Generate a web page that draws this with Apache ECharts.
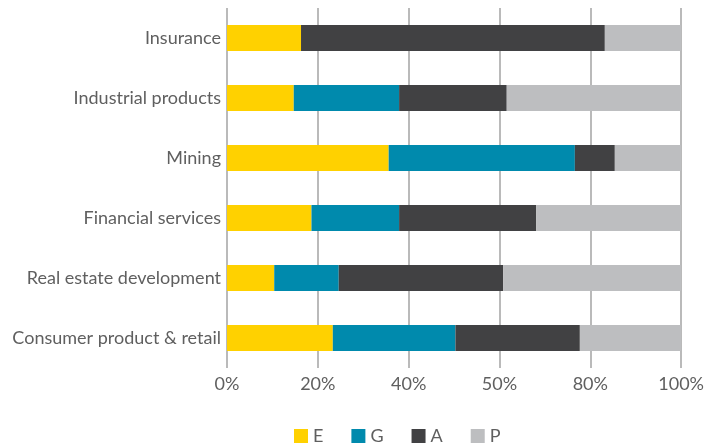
<!DOCTYPE html>
<html>
<head>
<meta charset="utf-8">
<script src="https://cdn.jsdelivr.net/npm/echarts@6/dist/echarts.min.js"></script>
<style>
  html, body { margin: 0; padding: 0; background: #fff; }
  #main { width: 707px; height: 443px; }
</style>
</head>
<body>
<div id="main"></div>
<script>
// categories, top to bottom
var categories = ["Insurance", "Industrial products", "Mining", "Financial services", "Real estate development", "Consumer product & retail"];
// share of each group, in %
var valuesE = [16.3, 14.7, 35.6, 18.6, 10.4, 23.3];
var valuesG = [0, 23.2, 41.0, 19.3, 14.2, 27.0];
var valuesA = [66.9, 23.7, 8.8, 30.2, 36.2, 27.4];
var valuesP = [16.8, 38.4, 14.6, 31.9, 39.2, 22.3];
// tick labels as printed on the original
var tickLabels = ["0%", "20%", "40%", "50%", "80%", "100%"];

var myChart = echarts.init(document.getElementById("main"));
var textColor = "#5f5f5f";
var font = "Lato";

function bar(name, data, color) {
  return {
    name: name,
    type: "bar",
    stack: "total",
    barWidth: 26,
    data: data,
    itemStyle: { color: color },
  };
}

var option = {
  animation: false,
  grid: { left: 227, right: 24, top: 8, bottom: 75 },
  legend: {
    left: 294,
    top: 427,
    padding: 0,
    itemWidth: 14,
    itemHeight: 14,
    itemGap: 28,
    icon: "rect",
    textStyle: { color: textColor, fontSize: 18, fontFamily: font },
    data: ["E", "G", "A", "P"],
  },
  xAxis: {
    type: "value",
    min: 0,
    max: 100,
    interval: 20,
    axisLine: { show: false },
    axisTick: { show: false },
    splitLine: { lineStyle: { color: "#a3a3a3", width: 1.5 } },
    axisLabel: {
      margin: 7,
      color: textColor,
      fontSize: 18,
      fontFamily: font,
      formatter: function (v) {
        return tickLabels[Math.round(v / 20)];
      },
    },
  },
  yAxis: {
    type: "category",
    inverse: true,
    data: categories,
    axisLine: { show: false },
    axisTick: { show: false },
    axisLabel: { margin: 6, color: textColor, fontSize: 18, fontFamily: font },
  },
  series: [
    bar("E", valuesE, "#ffd100"),
    bar("G", valuesG, "#008aad"),
    bar("A", valuesA, "#414143"),
    bar("P", valuesP, "#bdbec0"),
  ],
};
option && myChart.setOption(option);
</script>
</body>
</html>
